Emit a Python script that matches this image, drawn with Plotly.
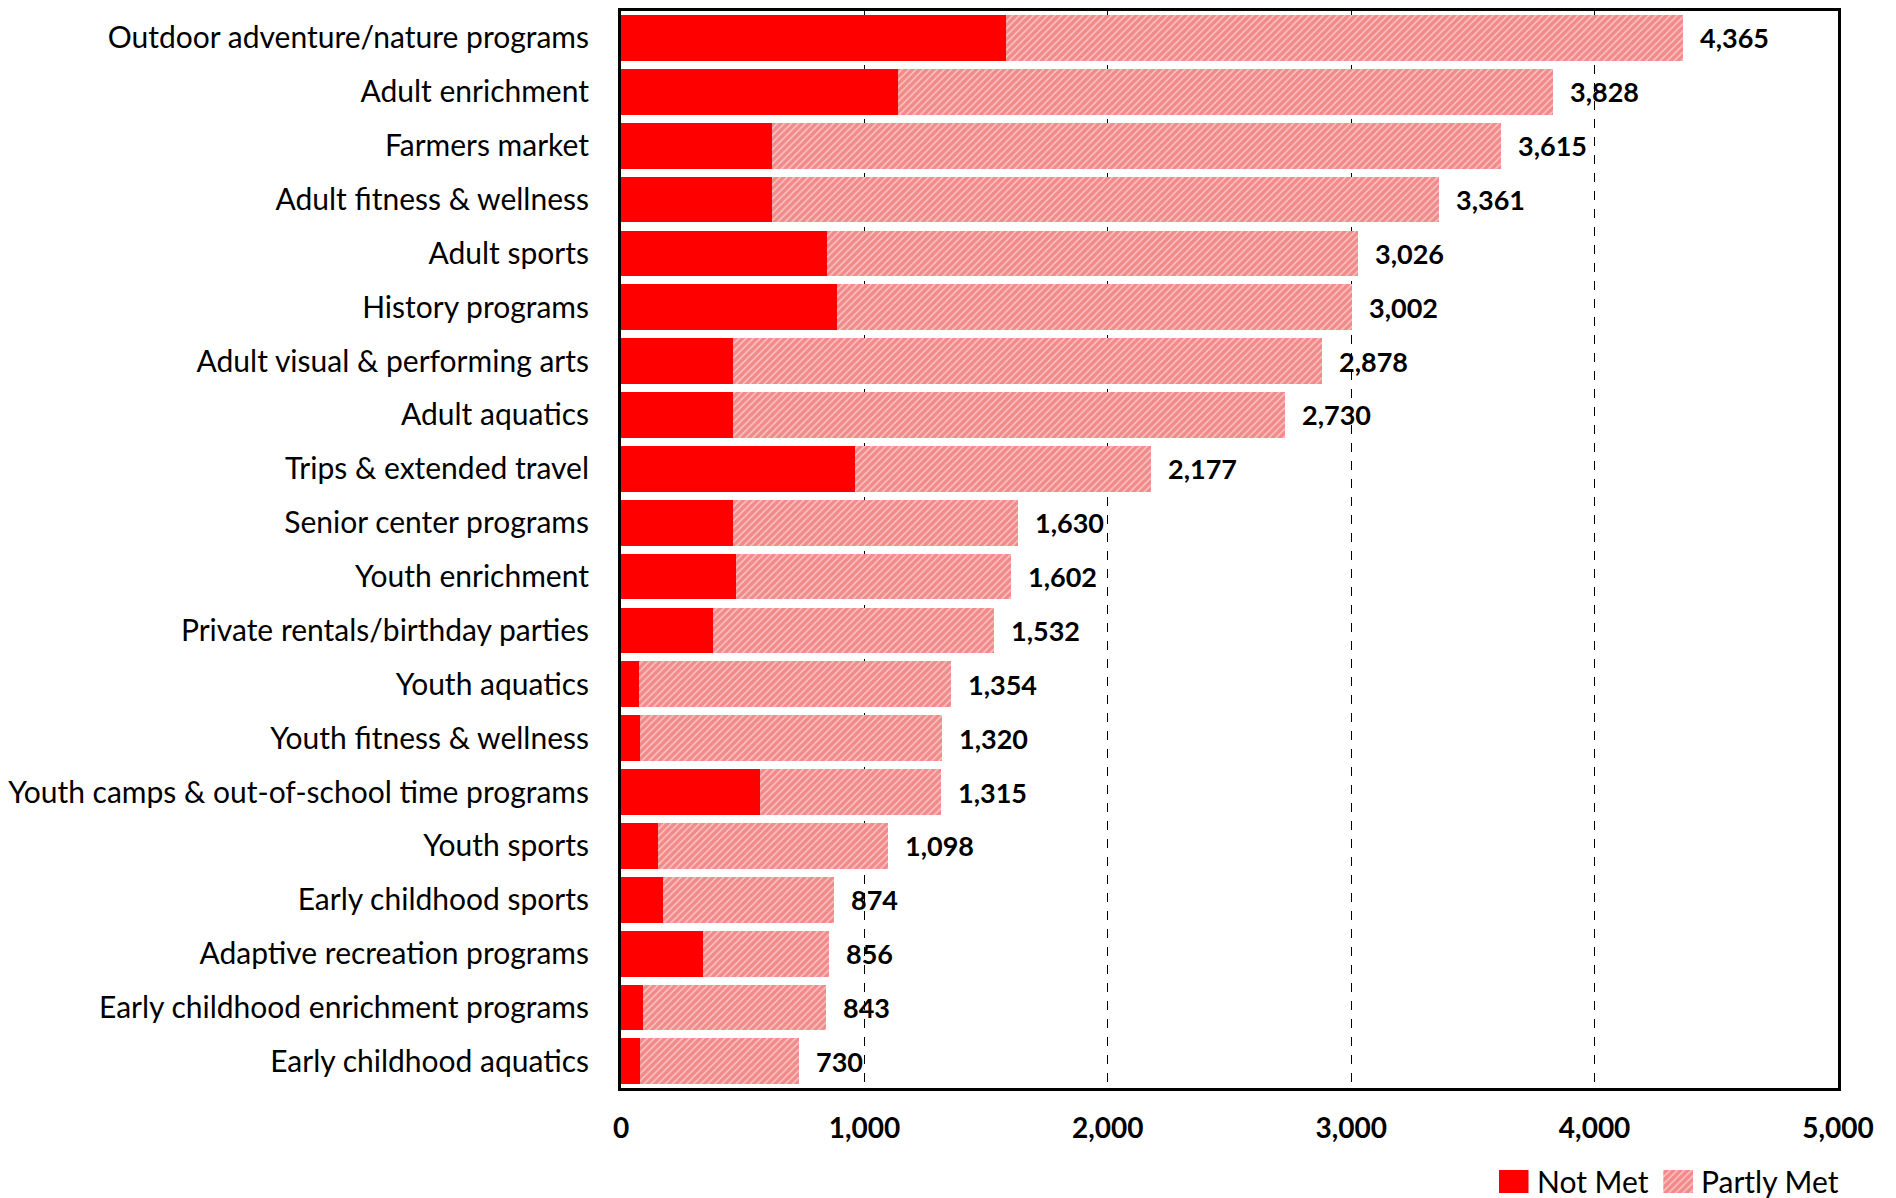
import plotly.graph_objects as go

categories = [
    'Outdoor adventure/nature programs',
    'Adult enrichment',
    'Farmers market',
    'Adult fitness & wellness',
    'Adult sports',
    'History programs',
    'Adult visual & performing arts',
    'Adult aquatics',
    'Trips & extended travel',
    'Senior center programs',
    'Youth enrichment',
    'Private rentals/birthday parties',
    'Youth aquatics',
    'Youth fitness & wellness',
    'Youth camps & out-of-school time programs',
    'Youth sports',
    'Early childhood sports',
    'Adaptive recreation programs',
    'Early childhood enrichment programs',
    'Early childhood aquatics',
]
totals = [4365, 3828, 3615, 3361, 3026, 3002, 2878, 2730, 2177, 1630,
          1602, 1532, 1354, 1320, 1315, 1098, 874, 856, 843, 730]
not_met = [1582, 1136, 620, 620, 848, 888, 461, 461, 962, 461,
           471, 377, 74, 79, 570, 154, 174, 337, 89, 79]
partly_met = [t - n for t, n in zip(totals, not_met)]
x_ticks = [0, 1000, 2000, 3000, 4000, 5000]
series_names = ['Not Met', 'Partly Met']

FONT = 'Lato'
RED = '#FF0000'
PINK = '#F28A8A'
hatch = dict(shape='/', fgcolor='#FFFFFF', bgcolor=PINK, size=5, solidity=0.3)

# page is offset 8px by the body margin, figure sized to fill the window
W, H = 1888, 1190
L, R = 611, 58


def px_x(page_x):
    return (page_x - 8 - L) / (W - L - R)


def px_y(page_y):
    return (H + 8 - page_y) / H


fig = go.Figure()

fig.add_trace(go.Bar(
    y=categories, x=not_met, name=series_names[0], orientation='h',
    marker=dict(color=RED, line=dict(width=0)), showlegend=False,
))
fig.add_trace(go.Bar(
    y=categories, x=partly_met, name=series_names[1], orientation='h',
    marker=dict(color=PINK, line=dict(width=0), pattern=hatch),
    showlegend=False,
))

# total labels next to each bar
for cat, tot in zip(categories, totals):
    fig.add_annotation(
        x=tot, y=cat, text=f'<b>{tot:,}</b>', showarrow=False,
        xanchor='left', xshift=15,
        font=dict(family=FONT, size=27, color='black'),
    )

# legend swatches drawn as tiny bars on their own axes
fig.add_trace(go.Bar(
    x=[1], y=[0], width=1, orientation='h', xaxis='x2', yaxis='y2',
    marker=dict(color=RED, line=dict(width=0)),
    showlegend=False, hoverinfo='skip',
))
fig.add_trace(go.Bar(
    x=[1], y=[0], width=1, orientation='h', xaxis='x3', yaxis='y3',
    marker=dict(color=PINK, line=dict(width=0), pattern=hatch),
    showlegend=False, hoverinfo='skip',
))
hidden = dict(visible=False, fixedrange=True)
sw_y = [px_y(1193), px_y(1170)]
fig.update_layout(
    xaxis2=dict(domain=[px_x(1498), px_x(1528)], range=[0, 1], anchor='y2', **hidden),
    yaxis2=dict(domain=sw_y, range=[-0.5, 0.5], anchor='x2', **hidden),
    xaxis3=dict(domain=[px_x(1663), px_x(1693)], range=[0, 1], anchor='y3', **hidden),
    yaxis3=dict(domain=sw_y, range=[-0.5, 0.5], anchor='x3', **hidden),
)
for name, page_x in zip(series_names, [1535, 1699]):
    fig.add_annotation(
        x=px_x(page_x), y=px_y(1181), xref='paper', yref='paper',
        text=name, showarrow=False, xanchor='left', yanchor='middle',
        font=dict(family=FONT, size=30, color='black'),
    )

fig.update_layout(
    barmode='stack',
    bargap=0.15,
    width=W, height=H,
    margin=dict(l=L, r=R, t=0, b=0),
    plot_bgcolor='white',
    paper_bgcolor='white',
    font=dict(family=FONT, color='black'),
    showlegend=False,
    xaxis=dict(
        range=[0, 5000],
        tickvals=x_ticks,
        ticktext=[f'<b>{v:,}</b>' for v in x_ticks],
        tickfont=dict(family=FONT, size=28, color='black'),
        showgrid=True, gridcolor='black', griddash='dash', gridwidth=1,
        zeroline=False,
        showline=True, linecolor='black', linewidth=3, mirror=True,
        ticks='', ticklabelstandoff=13,
        anchor='y',
    ),
    yaxis=dict(
        domain=[px_y(1088), px_y(8)],
        autorange='reversed',
        tickfont=dict(family=FONT, size=30, color='black'),
        showgrid=False, zeroline=False,
        showline=True, linecolor='black', linewidth=3, mirror=True,
        ticks='', ticklabelstandoff=23,
    ),
)

fig.write_html('out.html')
